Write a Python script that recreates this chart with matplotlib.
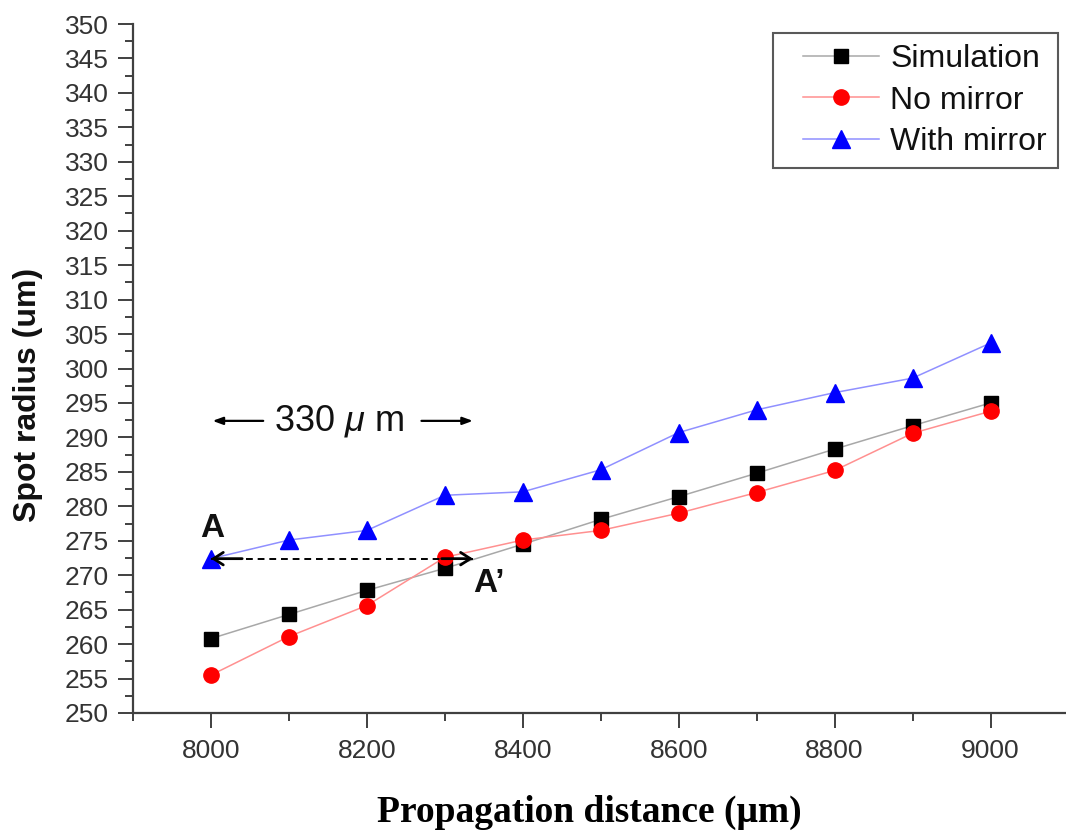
import matplotlib
matplotlib.use("Agg")
import matplotlib.pyplot as plt
from matplotlib.ticker import MultipleLocator
from matplotlib.legend_handler import HandlerLine2D

# Propagation distance (um)
distance = [8000, 8100, 8200, 8300, 8400, 8500, 8600, 8700, 8800, 8900, 9000]

# Spot radius (um) for each case
simulation = [260.8, 264.3, 267.8, 271.0, 274.5, 278.1, 281.4, 284.8, 288.3, 291.7, 295.0]
no_mirror = [255.5, 261.1, 265.6, 272.6, 275.1, 276.5, 279.0, 282.0, 285.2, 290.6, 293.8]
with_mirror = [272.4, 275.1, 276.5, 281.6, 282.1, 285.3, 290.7, 294.0, 296.5, 298.6, 303.7]

series_labels = ["Simulation", "No mirror", "With mirror"]

# Horizontal extent of the A -> A' shift
shift_end = 8336

plt.rcParams["font.family"] = ["Liberation Sans", "DejaVu Sans"]
plt.rcParams["mathtext.fontset"] = "custom"
plt.rcParams["mathtext.rm"] = "Liberation Sans"
plt.rcParams["mathtext.it"] = "Liberation Sans:italic"


class IndentedLine(HandlerLine2D):
    """Legend line handler that leaves extra room on the left of the sample."""

    def __init__(self, indent=0.6, **kw):
        super().__init__(**kw)
        self.indent = indent

    def create_artists(self, legend, orig_handle, xdescent, ydescent,
                       width, height, fontsize, trans):
        shift = self.indent * fontsize
        return super().create_artists(legend, orig_handle, xdescent - shift,
                                      ydescent, width - shift, height,
                                      fontsize, trans)


fig = plt.figure(figsize=(10.66, 8.34), dpi=100)
ax = fig.add_axes([0.1248, 0.1451, 0.8775, 0.8261])

axis_col = "#404040"
tick_col = "#333333"

l1, = ax.plot(distance, simulation, color="#a8a8a8", lw=1.1, marker="s", ms=10,
              mfc="black", mec="black", label=series_labels[0], zorder=3)
l2, = ax.plot(distance, no_mirror, color="#ff9090", lw=1.1, marker="o", ms=11,
              mfc="#ff0000", mec="#ff0000", label=series_labels[1], zorder=3)
l3, = ax.plot(distance, with_mirror, color="#9090ff", lw=1.1, marker="^", ms=13,
              mfc="#0000ff", mec="#0000ff", label=series_labels[2], zorder=3)

ax.set_xlim(7900, 9100)
ax.set_ylim(250, 350)
ax.xaxis.set_major_locator(MultipleLocator(200))
ax.xaxis.set_minor_locator(MultipleLocator(100))
ax.yaxis.set_major_locator(MultipleLocator(5))
ax.yaxis.set_minor_locator(MultipleLocator(2.5))

for side in ("top", "right"):
    ax.spines[side].set_visible(False)
for side in ("left", "bottom"):
    ax.spines[side].set_color(axis_col)
    ax.spines[side].set_linewidth(1.6)

ax.tick_params(axis="both", which="major", direction="out", length=10.5,
               width=1.4, color=axis_col, labelsize=19, labelcolor=tick_col)
ax.tick_params(axis="both", which="minor", direction="out", length=5.8,
               width=1.4, color=axis_col)
ax.tick_params(axis="y", which="major", pad=7)
ax.tick_params(axis="x", which="major", pad=8)

fig.text(0.0263, 0.526, "Spot radius (um)", rotation=90, ha="center",
         va="center", fontsize=23, fontweight="bold", color="#111111")
fig.text(0.5525, 0.026, "Propagation distance (\u03bcm)", ha="center",
         va="center", fontsize=27, fontweight="bold",
         family=["Liberation Serif", "DejaVu Serif"], color="black")

handler = IndentedLine(indent=0.6)
leg = ax.legend(handles=[l1, l2, l3], loc="upper right",
                bbox_to_anchor=(0.989, 0.987),
                borderaxespad=0, fontsize=23, frameon=True, fancybox=False,
                handlelength=2.95, handletextpad=0.37, labelspacing=0.36,
                borderpad=0.35,
                handler_map={l1: handler, l2: handler, l3: handler})
leg.get_frame().set_edgecolor("#303030")
leg.get_frame().set_linewidth(1.5)
for t in leg.get_texts():
    t.set_color("#111111")

# Dashed shift arrow between A and A'
y_a = with_mirror[0]
ax.plot([distance[0], shift_end], [y_a, y_a], color="black", lw=1.4,
        ls=(0, (3.5, 2.5)), zorder=4)
for tip, tail in ((distance[0], distance[0] + 40), (shift_end, shift_end - 40)):
    ax.annotate("", xy=(tip, y_a), xytext=(tail, y_a),
                arrowprops=dict(arrowstyle="->,head_length=0.7,head_width=0.45",
                                lw=2.0, color="black", shrinkA=0, shrinkB=0),
                zorder=5)

ax.text(distance[0] + 2, 276.8, "A", ha="center", va="center", fontsize=24,
        fontweight="bold", color="#111111")
ax.text(shift_end, 268.8, "A\u2019", ha="left", va="center", fontsize=24,
        fontweight="bold", color="#111111")

# Width label of the shift
y_w = 292.4
ax.text(8081, y_w, r"330 $\mu$ m", ha="left", va="center", fontsize=26,
        color="#111111")
ax.annotate("", xy=(distance[0] + 2, y_w), xytext=(8067, y_w),
            arrowprops=dict(arrowstyle="-|>,head_length=0.6,head_width=0.22",
                            lw=1.6, color="black", shrinkA=0, shrinkB=0))
ax.annotate("", xy=(shift_end, y_w), xytext=(8270, y_w),
            arrowprops=dict(arrowstyle="-|>,head_length=0.6,head_width=0.22",
                            lw=1.6, color="black", shrinkA=0, shrinkB=0))

fig.savefig("out.png", dpi=100, facecolor="white")
